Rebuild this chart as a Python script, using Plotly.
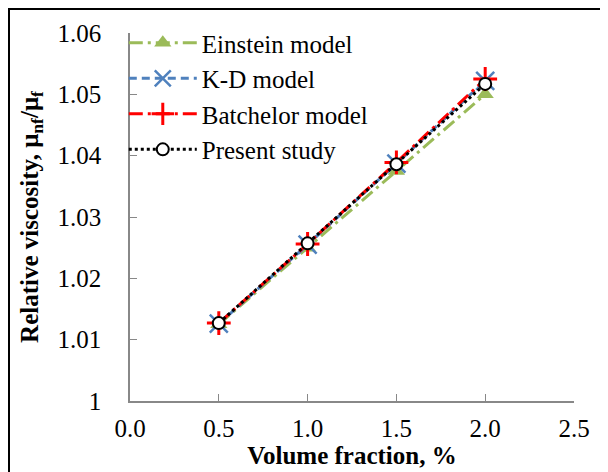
import plotly.graph_objects as go

volume_fraction = [0.5, 1.0, 1.5, 2.0]
einstein = [1.0125, 1.0250, 1.0375, 1.0500]
kd_model = [1.0126, 1.0255, 1.0387, 1.0522]
batchelor = [1.0127, 1.0256, 1.0389, 1.0525]
present = [1.0127, 1.0257, 1.0386, 1.0517]

x_ticks = [0.0, 0.5, 1.0, 1.5, 2.0, 2.5]
y_ticks = [1.00, 1.01, 1.02, 1.03, 1.04, 1.05, 1.06]

FONT = "Liberation Serif"
FS = 25

fig = go.Figure()
fig.add_trace(go.Scatter(
    x=volume_fraction, y=einstein, name="Einstein model", mode="lines+markers",
    line=dict(color="#9BBB59", width=3, dash="14px,5px,3px,5px"),
    marker=dict(symbol="triangle-up", size=15, color="#9BBB59"),
    legendgroup="a"))
fig.add_trace(go.Scatter(
    x=volume_fraction, y=kd_model, name="K-D model", mode="lines+markers",
    line=dict(color="#4F81BD", width=3, dash="8px,5px"),
    marker=dict(symbol="x-thin", size=18, color="#4F81BD", line=dict(color="#4F81BD", width=2.5)),
    legendgroup="b"))
fig.add_trace(go.Scatter(
    x=volume_fraction, y=batchelor, name="Batchelor model", mode="lines+markers",
    line=dict(color="#FF0000", width=3, dash="14px,5px,3px,5px"),
    marker=dict(symbol="cross-thin", size=17, color="#FF0000", line=dict(color="#FF0000", width=3)),
    legendgroup="c"))
fig.add_trace(go.Scatter(
    x=volume_fraction, y=present, name="Present study", mode="lines+markers",
    line=dict(color="#000000", width=3, dash="dot"),
    marker=dict(symbol="circle", size=12, color="white", line=dict(color="black", width=2)),
    legendgroup="d"))

ML, MR, MT, MB = 122, 42, 25, 79
fig.update_layout(
    width=608, height=472,
    margin=dict(l=ML, r=MR, t=MT, b=MB),
    paper_bgcolor="white", plot_bgcolor="white",
    font=dict(family=FONT, size=FS, color="black"),
    showlegend=True,
    legend=dict(x=-0.014, y=1.035, xanchor="left", yanchor="top", bgcolor="rgba(0,0,0,0)",
                font=dict(family=FONT, size=FS), itemwidth=68, tracegroupgap=9,
                traceorder="normal"),
    xaxis=dict(range=[0, 2.5], tickvals=x_ticks, ticktext=[f"{v:.1f}" for v in x_ticks],
               showgrid=False, zeroline=False, showline=True, linecolor="#888888", linewidth=1.5,
               ticks="inside", ticklen=7, tickcolor="#888888", tickfont=dict(size=FS),
               ticklabelstandoff=4, automargin=False,
               title=dict(text="<b>Volume fraction, %</b>", font=dict(size=FS), standoff=4)),
    yaxis=dict(range=[1.0, 1.06], tickvals=y_ticks,
               ticktext=["1", "1.01", "1.02", "1.03", "1.04", "1.05", "1.06"],
               showgrid=False, zeroline=False, showline=True, linecolor="#888888", linewidth=1.5,
               ticks="inside", ticklen=7, tickcolor="#888888", tickfont=dict(size=FS),
               ticklabelstandoff=22, automargin=False,
               title=dict(text="<b>Relative viscosity, μ<sub>nf</sub>/μ<sub>f</sub></b>",
                          font=dict(size=FS), standoff=12)),
)

pw, ph = 608 - ML - MR, 472 - MT - MB
y_axis_px = 472 - MB
fig.add_shape(type="rect", xref="paper", yref="paper",
              x0=(1 - ML) / pw, x1=(607 - ML) / pw,
              y0=(y_axis_px - 471) / ph, y1=(y_axis_px - 1) / ph,
              line=dict(color="black", width=2), fillcolor="rgba(0,0,0,0)")

fig.write_html("out.html")
